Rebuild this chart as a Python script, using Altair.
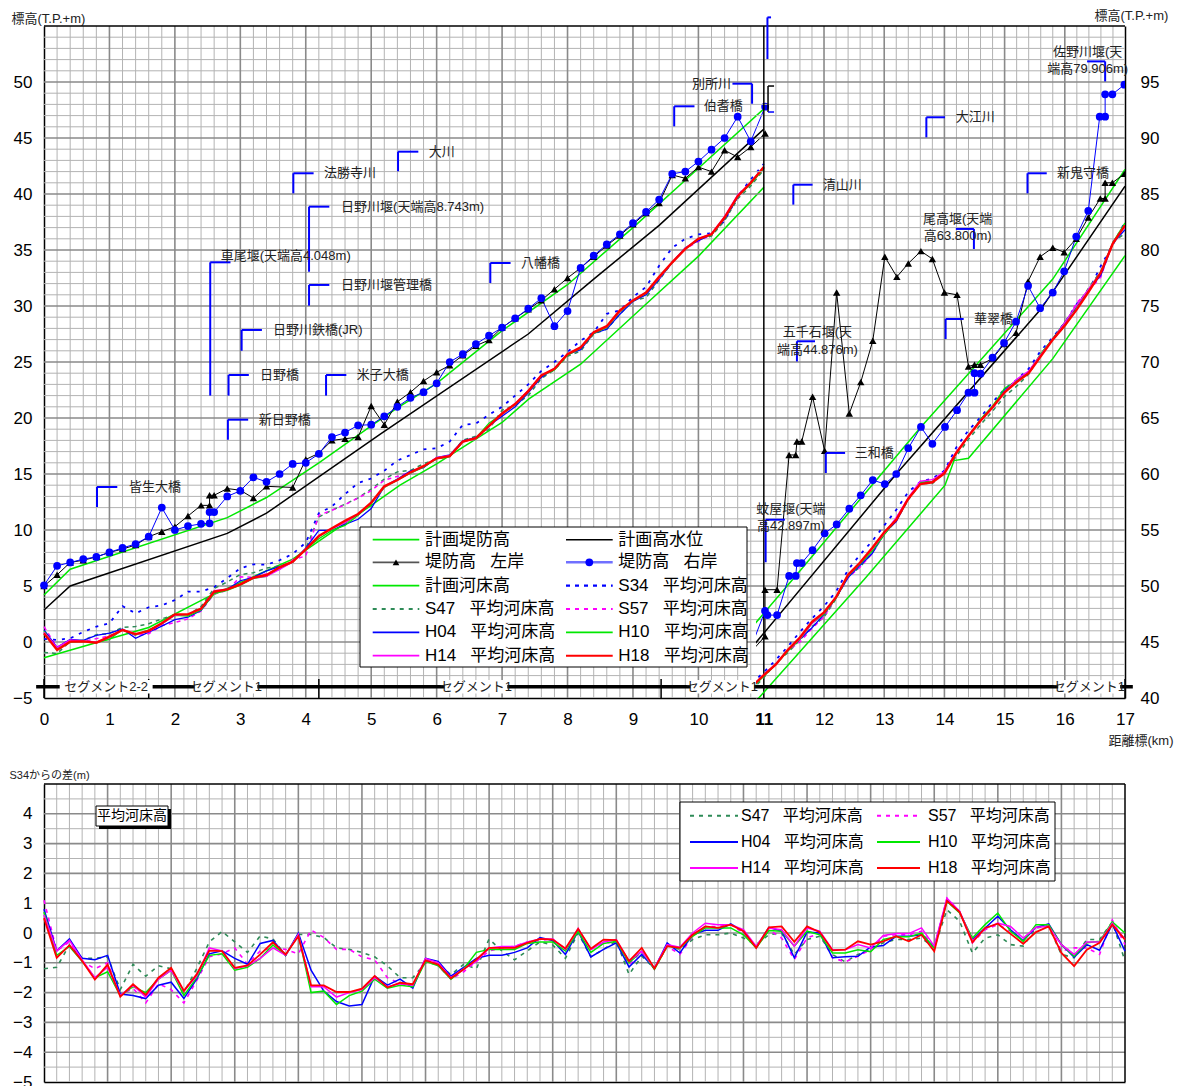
import altair as alt
import pandas as pd

FONT = "Liberation Sans, Noto Sans CJK JP"

# ----------------------------------------------------------------- data
# stations (km)
ST_L = [0.0, 0.2, 0.4, 0.6, 0.8, 1.0, 1.2, 1.4, 1.6, 1.8, 2.0, 2.2, 2.4, 2.6, 2.8, 3.0, 3.2, 3.4, 3.6, 3.8,
        4.0, 4.2, 4.4, 4.6, 4.8, 5.0, 5.2, 5.4, 5.6, 5.8, 6.0, 6.2, 6.4, 6.6, 6.8, 7.0, 7.2, 7.4, 7.6, 7.8,
        8.0, 8.2, 8.4, 8.6, 8.8, 9.0, 9.2, 9.4, 9.6, 9.8, 10.0, 10.2, 10.4, 10.6, 10.8, 11.0]
ST_R = [10.8, 11.0, 11.2, 11.4, 11.6, 11.8, 12.0, 12.2, 12.4, 12.6, 12.8, 13.0, 13.2, 13.4, 13.6, 13.8,
        14.0, 14.2, 14.4, 14.6, 14.8, 15.0, 15.2, 15.4, 15.6, 15.8, 16.0, 16.2, 16.4, 16.6, 16.8, 17.0]
ST_B = ST_L + ST_R[2:]

# levee heights, left bank (triangles)
LB_L_KM = [0.0, 0.2, 0.4, 0.6, 0.8, 1.0, 1.2, 1.4, 1.6, 1.8, 2.0, 2.2, 2.4, 2.53, 2.53, 2.6, 2.8, 3.0, 3.2, 3.4,
           3.8, 4.0, 4.2, 4.4, 4.6, 4.8, 5.0, 5.2, 5.4, 5.6, 5.8, 6.0, 6.2, 6.4, 6.6, 6.8, 7.0, 7.2, 7.4, 7.6,
           7.8, 8.0, 8.2, 8.4, 8.6, 8.8, 9.0, 9.2, 9.4, 9.6, 9.8, 10.0, 10.2, 10.4, 10.6, 10.8, 11.02]
LB_L = [5.0, 6.0, 7.1, 7.3, 7.6, 8.0, 8.3, 8.66, 9.4, 9.85, 10.3, 11.25, 12.2, 12.2, 13.1, 13.1, 13.7, 13.55, 12.85, 13.9,
        13.8, 16.3, 16.85, 18.0, 18.15, 18.3, 21.07, 19.4, 21.45, 22.3, 23.3, 24.08, 24.7, 25.6, 26.45, 26.96, 28.07, 28.9, 29.7, 30.5,
        31.5, 32.5, 33.4, 34.4, 35.4, 36.3, 37.3, 38.3, 39.2, 41.7, 41.4, 42.4, 42.0, 43.9, 43.3, 44.2, 45.4]
LB_R_KM = [10.8, 11.02, 11.02, 11.22, 11.42, 11.53, 11.55, 11.63, 11.81, 12.01, 12.21, 12.42, 12.61, 12.81, 13.01, 13.21,
           13.4, 13.61, 13.8, 14.0, 14.21, 14.4, 14.5, 14.6, 14.8, 14.99, 15.19, 15.39, 15.59, 15.8, 15.99, 16.19, 16.39,
           16.59, 16.67, 16.67, 16.79, 16.99]
LB_R = [44.2, 45.5, 49.67, 49.67, 61.7, 61.7, 62.9, 62.9, 66.9, 62.07, 76.2, 65.4, 68.2, 71.9, 79.4, 77.6,
        78.8, 79.9, 79.2, 76.2, 76.0, 69.6, 69.76, 69.76, 70.3, 71.6, 72.6, 77.2, 79.4, 80.2, 79.8, 81.0, 82.9,
        84.6, 84.6, 86.0, 86.0, 86.8]
# levee heights, right bank (circles)
RB_L_KM = [0.0, 0.2, 0.4, 0.6, 0.8, 1.0, 1.2, 1.4, 1.6, 1.8, 2.0, 2.2, 2.4, 2.53, 2.53, 2.6, 2.8, 3.0, 3.2, 3.4,
           3.6, 3.8, 4.0, 4.2, 4.4, 4.6, 4.8, 5.0, 5.2, 5.4, 5.6, 5.8, 6.0, 6.2, 6.4, 6.6, 6.8, 7.0, 7.2, 7.4,
           7.6, 7.8, 8.0, 8.2, 8.4, 8.6, 8.8, 9.0, 9.2, 9.4, 9.6, 9.8, 10.0, 10.2, 10.4, 10.6, 10.8, 11.02]
RB_L = [5.06, 6.8, 7.1, 7.4, 7.6, 8.0, 8.4, 8.75, 9.4, 12.0, 10.0, 10.35, 10.55, 10.6, 11.6, 11.6, 13.0, 13.5, 14.7, 14.3,
        15.0, 15.9, 16.0, 16.8, 18.3, 18.7, 19.35, 19.4, 20.15, 21.0, 21.8, 22.3, 23.1, 25.0, 25.7, 26.6, 27.35, 28.07, 28.9, 29.76,
        30.7, 28.2, 29.55, 33.4, 34.5, 35.5, 36.4, 37.4, 38.4, 39.5, 41.8, 42.0, 42.9, 43.96, 45.0, 46.9, 44.7, 47.8]
RB_R_KM = [10.8, 11.02, 11.06, 11.22, 11.42, 11.53, 11.55, 11.63, 11.81, 12.01, 12.21, 12.42, 12.61, 12.81, 13.01, 13.2,
           13.4, 13.61, 13.8, 14.01, 14.21, 14.4, 14.5, 14.5, 14.6, 14.8, 14.99, 15.19, 15.39, 15.59, 15.8, 15.99,
           16.19, 16.39, 16.58, 16.67, 16.67, 16.79, 16.99]
RB_R = [44.7, 47.77, 47.4, 47.4, 50.9, 50.9, 52.05, 52.05, 53.2, 54.7, 55.5, 56.9, 58.1, 59.46, 59.1, 60.0,
        62.3, 64.2, 62.7, 64.2, 65.7, 67.26, 67.26, 69.0, 68.96, 70.4, 71.7, 73.6, 76.8, 74.8, 76.2, 78.1,
        81.2, 83.5, 91.9, 91.9, 93.9, 93.9, 94.76]

# planned levee height / planned high water level / planned bed
PLEV_L_KM = [0.0, 0.4, 2.8, 3.4, 4.2, 5.0, 5.4, 6.0, 7.0, 8.0, 9.0, 10.0, 11.0]
PLEV_L = [4.2, 6.5, 11.1, 12.9, 16.0, 19.3, 20.9, 23.1, 27.8, 31.9, 37.0, 42.3, 47.6]
PLEV_R_KM = [10.8, 11.56, 13.61, 15.8, 17.0]
PLEV_R = [46.3, 51.1, 64.2, 77.4, 87.2]
HWL_L_KM = [0.0, 0.4, 2.8, 3.4, 5.15, 7.4, 8.4, 9.4, 11.0]
HWL_L = [2.86, 5.0, 9.7, 11.5, 18.6, 27.5, 32.4, 37.2, 45.8]
HWL_R_KM = [10.8, 13.2, 15.6, 17.0]
HWL_R = [44.5, 60.0, 74.7, 85.7]
PBED_L_KM = [0.0, 1.6, 2.5, 3.8, 4.2, 5.0, 5.44, 6.0, 7.0, 7.41, 8.2, 9.28, 10.01, 11.0]
PBED_L = [-1.4, 1.3, 4.0, 7.4, 9.0, 12.2, 14.0, 15.9, 19.6, 21.7, 24.8, 30.6, 34.5, 40.6]
PBED_R_KM = [10.8, 12.67, 14.01, 14.16, 14.4, 15.8, 17.0]
PBED_R = [39.3, 50.6, 59.0, 61.2, 61.4, 70.3, 79.5]

# mean bed height S34 and H18
S34_L = [0.27, 0.18, 0.33, 0.9, 1.37, 1.67, 3.2, 2.56, 3.1, 3.27, 3.75, 4.5, 4.5, 4.9, 5.7, 6.58, 6.93, 6.9, 7.3, 7.86,
         8.87, 11.5, 12.1, 13.2, 14.2, 14.6, 15.3, 16.2, 16.7, 17.2, 17.3, 17.9, 19.4, 19.5, 20.3, 21.0, 22.0, 23.0, 24.2, 25.0,
         25.9, 26.9, 27.65, 29.3, 29.6, 30.8, 31.7, 33.6, 35.2, 36.0, 36.4, 36.5, 37.6, 39.8, 41.3, 42.7]
S34_R = [41.3, 42.3, 43.4, 44.6, 45.9, 47.1, 48.2, 49.5, 51.45, 52.8, 54.0, 55.4, 56.8, 58.4, 59.3, 59.6,
         60.3, 62.4, 63.9, 65.06, 66.4, 67.6, 68.4, 69.4, 71.0, 72.2, 73.5, 75.2, 76.4, 78.6, 80.5, 82.5]
H18_L = [0.77, -0.71, 0.03, 0.06, -0.06, 0.48, 1.07, 0.71, 1.0, 1.67, 2.47, 2.47, 2.98, 4.49, 4.7, 5.15, 5.74, 5.98, 6.67, 7.17,
         8.27, 9.46, 10.15, 10.83, 11.43, 12.44, 13.9, 14.46, 15.15, 15.7, 16.4, 16.6, 17.9, 18.2, 19.3, 20.4, 21.25, 22.4, 23.8, 24.4,
         25.7, 26.3, 27.65, 28.2, 29.6, 30.5, 31.2, 32.6, 33.9, 35.1, 36.0, 36.4, 37.9, 39.8, 41.0, 42.4]
H18_R = [41.0, 42.05, 43.0, 44.3, 45.4, 46.8, 47.65, 49.0, 51.0, 52.1, 53.4, 54.8, 55.9, 57.8, 59.1, 59.26,
         60.06, 61.9, 63.4, 64.76, 65.96, 67.3, 68.2, 69.0, 70.5, 72.0, 73.25, 74.7, 76.3, 78.0, 80.6, 82.2]

# difference from S34 (lower chart), one value per station 0.0 .. 17.0
D_H18 = [0.5, -0.83, -0.41, -0.94, -1.56, -1.06, -2.14, -1.72, -2.08, -1.5, -1.17, -1.94, -1.39, -0.59, -0.61,
         -1.17, -1.09, -0.72, -0.31, -0.72, -0.11, -1.76, -1.76, -1.98, -1.98, -1.87, -1.44, -1.83, -1.67, -1.72,
         -0.92, -1.06, -1.52, -1.22, -0.89, -0.5, -0.5, -0.5, -0.33, -0.2, -0.22, -0.52, 0.14, -0.53, -0.22,
         -0.24, -0.94, -0.5, -1.19, -0.44, -0.5, -0.06, 0.22, 0.17, 0.28, 0.06, -0.5, 0.19, 0.22, -0.3,
         0.22, 0.03, -0.58, -0.56, -0.28, -0.39, -0.28, -0.11, -0.28, -0.06, -0.61, 1.08, 0.7, -0.31, 0.17,
         0.31, -0.03, -0.36, 0.03, 0.22, -0.67, -1.11, -0.56, -0.33, 0.28, -0.22]
D_H04 = [0.8, -0.6, -0.2, -0.85, -0.9, -0.75, -2.05, -2.1, -2.2, -1.75, -1.65, -2.2, -1.55, -0.7, -0.6,
         -0.85, -1.05, -0.35, -0.25, -0.75, 0.0, -1.25, -1.95, -2.3, -2.45, -2.4, -1.45, -1.75, -1.55, -1.85,
         -0.85, -0.95, -1.45, -1.15, -0.85, -0.75, -0.75, -0.65, -0.5, -0.15, -0.25, -0.72, 0.05, -0.8, -0.55,
         -0.33, -1.14, -0.72, -1.19, -0.33, -0.67, -0.06, 0.09, 0.09, 0.31, 0.06, -0.48, 0.19, 0.06, -0.83,
         0.03, 0.0, -0.83, -0.8, -0.78, -0.47, -0.42, -0.11, -0.11, -0.06, -0.48, 1.11, 0.7, -0.22, 0.17,
         0.56, 0.11, -0.26, 0.19, 0.31, -0.39, -0.81, -0.39, -0.58, 0.3, -0.61]
D_H10 = [0.7, -0.75, -0.45, -0.95, -1.5, -1.3, -2.1, -1.8, -2.0, -1.55, -1.25, -2.1, -1.5, -0.75, -0.7,
         -1.25, -1.15, -0.85, -0.4, -0.75, -0.05, -2.0, -1.95, -2.4, -2.1, -1.95, -1.55, -1.85, -1.75, -1.8,
         -0.95, -1.1, -1.55, -1.2, -0.65, -0.55, -0.55, -0.55, -0.35, -0.3, -0.3, -0.6, 0.05, -0.65, -0.35,
         -0.28, -1.0, -0.61, -1.22, -0.44, -0.5, -0.11, 0.17, 0.17, 0.17, -0.06, -0.5, 0.08, 0.06, -0.44,
         0.06, -0.06, -0.67, -0.67, -0.56, -0.63, -0.22, -0.13, -0.13, 0.0, -0.5, 1.06, 0.67, -0.17, 0.28,
         0.67, 0.06, -0.28, 0.28, 0.28, -0.39, -0.78, -0.33, -0.28, 0.37, 0.0]
D_H14 = [0.6, -0.6, -0.25, -0.9, -1.5, -1.15, -2.1, -1.75, -2.15, -1.55, -1.25, -1.95, -1.45, -0.5, -0.6,
         -1.2, -1.1, -0.85, -0.5, -0.75, -0.05, -1.8, -1.8, -2.15, -2.0, -1.9, -1.5, -1.8, -1.7, -1.75,
         -0.85, -1.0, -1.5, -1.2, -0.95, -0.5, -0.45, -0.45, -0.3, -0.2, -0.2, -0.55, 0.15, -0.55, -0.3,
         -0.22, -0.94, -0.61, -1.17, -0.39, -0.48, 0.0, 0.33, 0.28, 0.28, 0.11, -0.44, 0.17, 0.11, -0.44,
         0.17, 0.06, -0.56, -0.56, -0.39, -0.5, -0.08, -0.02, -0.02, 0.17, -0.44, 1.17, 0.72, -0.26, 0.14,
         0.33, 0.22, -0.17, 0.19, 0.22, -0.39, -0.72, -0.3, -0.3, 0.33, -0.22]
D_S47 = [-1.2, -1.15, -0.4, -0.85, -0.85, -0.8, -1.9, -1.05, -1.45, -1.1, -1.2, -2.0, -1.2, -0.3, 0.05,
         -0.3, -0.65, -0.1, -0.2, -0.75, -0.05, -0.05, -0.15, -0.5, -0.55, -0.65, -0.8, -1.1, -1.5, -1.5,
         -1.0, -1.05, -1.4, -1.05, -1.2, -0.2, -0.6, -0.9, -0.6, -0.3, -0.4, -0.85, 0.0, -0.8, -0.55,
         -0.26, -1.39, -0.78, -1.19, -0.39, -0.56, -0.22, -0.06, -0.06, 0.0, -0.17, -0.39, -0.06, 0.0, -0.72,
         -0.22, -0.11, -0.72, -0.97, -0.72, -0.56, -0.33, -0.22, -0.22, -0.17, -0.5, 0.78, 0.39, -0.67, -0.17,
         -0.06, -0.39, -0.44, 0.17, 0.22, -0.72, -0.83, -0.22, -0.22, 0.37, -0.94]
D_S57 = [1.1, -0.6, -0.3, -0.95, -1.2, -1.0, -2.1, -1.85, -2.35, -1.7, -1.9, -2.35, -1.6, -0.8, -0.7,
         -0.5, -1.05, -0.6, -0.5, -0.55, -0.7, 0.1, -0.15, -0.55, -0.55, -0.8, -0.9, -1.5, -1.7, -1.8,
         -0.85, -1.1, -1.55, -1.3, -0.95, -0.6, -0.5, -0.45, -0.3, -0.25, -0.2, -0.55, 0.1, -0.55, -0.35,
         -0.28, -1.06, -0.61, -1.22, -0.44, -0.72, -0.11, 0.22, 0.22, 0.28, 0.0, -0.5, 0.11, -0.17, -0.89,
         -0.17, 0.0, -0.83, -0.97, -0.78, -0.56, -0.11, -0.06, -0.06, 0.06, -0.5, 1.17, 0.72, -0.33, 0.11,
         0.28, 0.06, -0.22, 0.17, 0.28, -0.61, -0.5, -0.5, -0.72, 0.44, -0.39]

for _arr in (D_H18, D_H04, D_H10, D_H14, D_S47, D_S57):
    assert len(_arr) == len(ST_B), len(_arr)
assert len(LB_L_KM) == len(LB_L) and len(RB_L_KM) == len(RB_L)
assert len(LB_R_KM) == len(LB_R) and len(RB_R_KM) == len(RB_R)
assert len(S34_L) == len(ST_L) == len(H18_L) and len(S34_R) == len(ST_R) == len(H18_R)

# annotations, left panel
ANL_LABEL = ["皆生大橋", "新日野橋", "日野橋", "米子大橋", "日野川鉄橋(JR)", "車尾堰(天端高4.048m)", "日野川堰管理橋",
             "日野川堰(天端高8.743m)", "法勝寺川", "大川", "八幡橋", "伯耆橋", "別所川"]
ANL_VX = [0.81, 2.81, 2.82, 4.31, 3.02, 2.54, 4.05, 4.05, 3.81, 5.41, 6.82, 9.63, 10.82]
ANL_VTOP = [13.84, 19.85, 23.84, 23.84, 27.86, 33.9, 31.88, 38.87, 41.85, 43.78, 33.84, 47.83, 49.85]
ANL_VBOT = [12.05, 18.06, 22.0, 22.0, 26.0, 22.0, 30.03, 33.06, 40.06, 42.03, 32.05, 46.04, 48.06]
ANL_HX1 = [0.81, 2.81, 2.82, 4.31, 3.02, 2.54, 4.05, 4.05, 3.81, 5.41, 6.82, 9.63, 10.52]
ANL_HX2 = [1.12, 3.12, 3.13, 4.62, 3.33, 2.85, 4.36, 4.36, 4.12, 5.72, 7.13, 9.94, 10.82]
ANL_TX = [1.30, 3.28, 3.30, 4.78, 3.50, 2.70, 4.54, 4.54, 4.28, 5.88, 7.29, 10.08, 10.50]
ANL_TY = [13.84, 19.85, 23.84, 23.84, 27.86, 34.5, 31.88, 38.87, 41.85, 43.78, 33.84, 47.83, 49.85]
ANL_ALIGN = ["left"] * 12 + ["right"]

# annotations, right panel (brackets)
ANR_VX = [11.49, 13.70, 15.38, 12.03, 14.02, 11.55, 11.03, 14.49, 16.67, 11.06]
ANR_VTOP = [85.83, 91.85, 86.85, 61.88, 73.84, 71.85, 55.92, 81.88, 96.84, 100.77]
ANR_VBOT = [84.05, 90.06, 85.06, 60.09, 72.05, 70.05, 52.12, 80.09, 95.05, 97.05]
ANR_HX1 = [11.49, 13.70, 15.38, 12.03, 14.02, 11.55, 11.03, 14.19, 16.37, 11.06]
ANR_HX2 = [11.81, 14.01, 15.70, 12.35, 14.32, 11.85, 11.35, 14.49, 16.67, 11.12]
# annotations, right panel (texts)
ANR_TEXT = ["清山川", "大江川", "新鬼守橋", "三和橋", "華翠橋", "五千石堰(天", "端高44.876m)", "蚊屋堰(天端",
            "高42.897m)", "尾高堰(天端", "高63.800m)", "佐野川堰(天", "端高79.906m)"]
ANR_TX = [11.98, 14.19, 15.87, 12.51, 14.49, 11.89, 11.89, 11.45, 11.45, 14.22, 14.22, 16.38, 16.38]
ANR_TY = [85.83, 91.85, 86.85, 61.88, 73.84, 72.65, 71.1, 56.88, 55.38, 82.77, 81.25, 97.68, 96.16]
ANR_ALIGN = ["left"] * 5 + ["center"] * 8

# segment bar
SEG_L_TEXT = ["セグメント2-2", "セグメント1", "セグメント1", "セグメント1"]
SEG_L_C = [0.95, 2.78, 6.6, 10.36]
SEG_L_X1 = [0.24, 2.30, 6.12, 9.88]
SEG_L_X2 = [1.66, 3.26, 7.08, 10.85]
SEG_L_TICK = [0.0, 1.6, 4.2, 9.43]
SEG_R_TEXT = ["セグメント1"]
SEG_R_C = [16.4]
SEG_R_X1 = [15.89]
SEG_R_X2 = [16.92]
SEG_R_TICK = [17.0]

# legend labels
SP = "\u00a0\u00a0\u00a0"
LEG_TOP = ["計画堤防高", "計画高水位", "堤防高" + SP + "左岸", "堤防高" + SP + "右岸", "計画河床高",
           "S34" + SP + "平均河床高", "S47" + SP + "平均河床高", "S57" + SP + "平均河床高",
           "H04" + SP + "平均河床高", "H10" + SP + "平均河床高", "H14" + SP + "平均河床高", "H18" + SP + "平均河床高"]
LEG_BOT = ["S47" + SP + "平均河床高", "S57" + SP + "平均河床高", "H04" + SP + "平均河床高",
           "H10" + SP + "平均河床高", "H14" + SP + "平均河床高", "H18" + SP + "平均河床高"]

# ----------------------------------------------------------------- styles / helpers
LW, RW, TH = 712, 369, 672
BW, BH = 1081, 298
GREEN = "#00e800"
GRID_MIN = "#b3b3b3"
GRID_MAJ = "#8a8a8a"
AX_COMMON = dict(labelFont=FONT, labelFontSize=17, labelColor="black", domainColor="black",
                 domainWidth=1.5, ticks=False, grid=False, labelFlush=False, labelOverlap=False)
TITLE_STYLE = dict(titleFont=FONT, titleFontSize=13, titleFontWeight="normal", titleColor="#222222")
TITLE_STYLE_S = dict(titleFont=FONT, titleFontSize=11, titleFontWeight="normal", titleColor="#222222")

SC = {
    "XL": (alt.Scale(domain=[0, 10.88], nice=False, zero=False),
           alt.Axis(values=list(range(0, 11)), format="d", labelPadding=13, title=None, **AX_COMMON)),
    "YL": (alt.Scale(domain=[-5, 55], nice=False, zero=False),
           alt.Axis(values=list(range(-5, 55, 5)), labelPadding=12, title="標高(T.P.+m)", titleAngle=0,
                    titleAlign="left", titleBaseline="bottom", titleX=-33, titleY=-1, **TITLE_STYLE, **AX_COMMON)),
    "XR": (alt.Scale(domain=[10.87, 17], nice=False, zero=False),
           alt.Axis(values=list(range(11, 18)), format="d", labelPadding=13,
                    labelFontWeight={"condition": {"test": "datum.value == 11", "value": "bold"}, "value": "normal"},
                    title="距離標(km)", titleAlign="left", titleBaseline="middle", titleX=352, titleY=42,
                    **TITLE_STYLE, **AX_COMMON)),
    "YR": (alt.Scale(domain=[40, 100], nice=False, zero=False),
           alt.Axis(values=list(range(40, 100, 5)), orient="right", labelPadding=15, title="標高(T.P.+m)",
                    titleAngle=0, titleAlign="left", titleBaseline="bottom", titleX=-31, titleY=-4,
                    **TITLE_STYLE, **AX_COMMON)),
    "XB": (alt.Scale(domain=[0, 17], nice=False, zero=False),
           alt.Axis(labels=False, title=None, **AX_COMMON)),
    "YB": (alt.Scale(domain=[-5, 5], nice=False, zero=False),
           alt.Axis(values=list(range(-5, 5)), labelPadding=12, title="S34からの差(m)", titleAngle=0,
                    titleAlign="left", titleBaseline="bottom", titleX=-35, titleY=-4, **TITLE_STYLE_S, **AX_COMMON)),
}
ONE = pd.DataFrame({"k": [0]})


def X(field, key):
    s, a = SC[key]
    return alt.X(field, scale=s, axis=a)


def Y(field, key):
    s, a = SC[key]
    return alt.Y(field, scale=s, axis=a)


def series(km, v, xk, yk, color, width=1.5, dash=None, clip=False):
    df = pd.DataFrame({"km": km, "v": v, "o": list(range(len(km)))})
    kw = dict(color=color, strokeWidth=width, clip=clip)
    if dash:
        kw["strokeDash"] = dash
    return alt.Chart(df).mark_line(**kw).encode(x=X("km:Q", xk), y=Y("v:Q", yk), order="o:Q")


def markers(km, v, xk, yk, shape, color, size=60, clip=False):
    df = pd.DataFrame({"km": km, "v": v})
    return alt.Chart(df).mark_point(shape=shape, filled=True, color=color, size=size,
                                    opacity=1, clip=clip).encode(x=X("km:Q", xk), y=Y("v:Q", yk))


def vrules(vals, xk, color, width):
    return alt.Chart(pd.DataFrame({"km": vals})).mark_rule(color=color, strokeWidth=width).encode(
        x=X("km:Q", xk))


def hrules(vals, yk, color, width):
    return alt.Chart(pd.DataFrame({"v": vals})).mark_rule(color=color, strokeWidth=width).encode(
        y=Y("v:Q", yk))


def seg_v(xv, y1, y2, xk, yk, color, width=2.0):
    df = pd.DataFrame({"km": xv, "v": y1, "v2": y2})
    return alt.Chart(df).mark_rule(color=color, strokeWidth=width).encode(
        x=X("km:Q", xk), y=Y("v:Q", yk), y2="v2:Q")


def seg_h(x1, x2, yv, xk, yk, color, width=2.0):
    df = pd.DataFrame({"km": x1, "km2": x2, "v": yv})
    return alt.Chart(df).mark_rule(color=color, strokeWidth=width).encode(
        x=X("km:Q", xk), x2="km2:Q", y=Y("v:Q", yk))


def box(x1, x2, y1, y2, xk, yk):
    df = pd.DataFrame({"km": x1, "km2": x2, "v": y1, "v2": y2})
    return alt.Chart(df).mark_rect(fill="white").encode(
        x=X("km:Q", xk), x2="km2:Q", y=Y("v:Q", yk), y2="v2:Q")


def texts(tx, ty, labels, xk, yk, align="left", size=13, color="#222222"):
    df = pd.DataFrame({"km": tx, "v": ty, "t": labels})
    return alt.Chart(df).mark_text(align=align, baseline="middle", font=FONT, fontSize=size,
                                   color=color).encode(x=X("km:Q", xk), y=Y("v:Q", yk), text="t:N")


def prect(x1, y1, x2, y2, **kw):
    return alt.Chart(ONE).mark_rect(**kw).encode(
        x=alt.value(x1), x2=alt.value(x2), y=alt.value(y1), y2=alt.value(y2))


def pline(x1, x2, y, color, width=1.5, dash=None):
    kw = dict(color=color, strokeWidth=width)
    if dash:
        kw["strokeDash"] = dash
    return alt.Chart(ONE).mark_rule(**kw).encode(x=alt.value(x1), x2=alt.value(x2), y=alt.value(y))


def ppoint(x, y, shape, color, size=55):
    return alt.Chart(ONE).mark_point(shape=shape, filled=True, color=color, size=size, opacity=1).encode(
        x=alt.value(x), y=alt.value(y))


def ptext(x, y, s, size=17, align="left"):
    return alt.Chart(ONE).mark_text(align=align, baseline="middle", font=FONT, fontSize=size,
                                    color="black").encode(x=alt.value(x), y=alt.value(y), text=alt.value(s))


def frac_grid(start, n, step, major_every):
    return [round(start + step * i, 2) for i in range(1, n) if i % major_every != 0]


def derived(h18, dx, offset):
    return [round(h18[j] + dx[offset + j] - D_H18[offset + j], 2) for j in range(len(h18))]


BED = [  # (diff list, colour, width, dash)
    (D_S47, "#2e8b57", 1.5, [4, 4]),
    (D_S57, "#ff00ff", 1.5, [4, 4]),
    (D_H04, "#0000ff", 1.3, None),
    (D_H10, GREEN, 1.3, None),
    (D_H14, "#ff00ff", 1.3, None),
]

# ----------------------------------------------------------------- left panel (0 - 11 km)
L = [vrules(frac_grid(0, 55, 0.2, 5), "XL", GRID_MIN, 1),
     hrules([v for v in range(-4, 55) if v % 5 != 0], "YL", GRID_MIN, 1),
     vrules(list(range(1, 11)), "XL", GRID_MAJ, 1.6),
     hrules(list(range(0, 55, 5)), "YL", GRID_MAJ, 1.6),
     alt.Chart(ONE).mark_rule(color="black", strokeWidth=1.5).encode(x=alt.value(0), x2=alt.value(LW), y=alt.value(0)),
     series(PBED_L_KM, PBED_L, "XL", "YL", GREEN, 1.5),
     series(PLEV_L_KM, PLEV_L, "XL", "YL", GREEN, 1.5),
     series(HWL_L_KM, HWL_L, "XL", "YL", "black", 1.5),
     series(ST_L, S34_L, "XL", "YL", "#0000ff", 1.8, [3, 6])]
for d, c, w, dash in BED:
    L.append(series(ST_L, derived(H18_L, d, 0), "XL", "YL", c, w, dash))
L += [series(ST_L, H18_L, "XL", "YL", "#ff0000", 2.4),
      series(LB_L_KM, LB_L, "XL", "YL", "black", 1),
      series(RB_L_KM, RB_L, "XL", "YL", "#0000ff", 1),
      markers(LB_L_KM, LB_L, "XL", "YL", "triangle-up", "black", 55),
      markers(RB_L_KM, RB_L, "XL", "YL", "circle", "#0000ff", 60)]
# segment bar
L += [seg_h([-0.12], [10.88], [-4.0], "XL", "YL", "black", 3.5),
      seg_v(SEG_L_TICK, [-5.0] * 4, [-3.3] * 4, "XL", "YL", "black", 1.5),
      box(SEG_L_X1, SEG_L_X2, [-4.6] * 4, [-3.4] * 4, "XL", "YL"),
      texts(SEG_L_C, [-4.0] * 4, SEG_L_TEXT, "XL", "YL", "center", 13)]
# annotations
L += [seg_v(ANL_VX, ANL_VTOP, ANL_VBOT, "XL", "YL", "#0000ff", 2),
      seg_h(ANL_HX1, ANL_HX2, ANL_VTOP, "XL", "YL", "#0000ff", 2)]
for al in ("left", "right"):
    idx = [i for i, a in enumerate(ANL_ALIGN) if a == al]
    L.append(texts([ANL_TX[i] for i in idx], [ANL_TY[i] for i in idx], [ANL_LABEL[i] for i in idx],
                   "XL", "YL", al, 13))
# legend (pixel layout inside the left plot)
L.append(prect(316, 501, 703, 641, fill="white", stroke="black", strokeWidth=1))
ROWS = [513.7, 536.3, 559.7, 583.0, 606.3, 629.7]
LEG_STYLE = [(GREEN, 1.8, None), ("black", 1.5, None), ("#555555", 1.8, None), ("#7070ff", 2.5, None),
             (GREEN, 1.8, None), ("#0000ff", 2.2, [4, 5]), ("#2e8b57", 2.2, [4, 5]), ("#ff00ff", 2.2, [4, 5]),
             ("#0000ff", 1.8, None), (GREEN, 1.8, None), ("#ff00ff", 1.8, None), ("#ff0000", 2.0, None)]
for k, (lab, (col, w, dash)) in enumerate(zip(LEG_TOP, LEG_STYLE)):
    r, c = divmod(k, 2)
    x1, x2, tx = (328.7, 375.3, 381) if c == 0 else (522, 568.7, 574.3)
    L.append(pline(x1, x2, ROWS[r], col, w, dash))
    L.append(ptext(tx, ROWS[r], lab, 17))
L.append(ppoint(352, ROWS[1], "triangle-up", "black", 45))
L.append(ppoint(545.3, ROWS[1], "circle", "#0000ff", 60))

left = alt.layer(*L).properties(width=LW, height=TH)

# ----------------------------------------------------------------- right panel (11 - 17 km)
R = [vrules(frac_grid(11, 30, 0.2, 5), "XR", GRID_MIN, 1),
     hrules([v for v in range(41, 100) if v % 5 != 0], "YR", GRID_MIN, 1),
     vrules([12, 13, 14, 15, 16], "XR", GRID_MAJ, 1.6),
     hrules(list(range(45, 100, 5)), "YR", GRID_MAJ, 1.6),
     vrules([11], "XR", "black", 1.5),
     alt.Chart(ONE).mark_rule(color="black", strokeWidth=1.5).encode(x=alt.value(0), x2=alt.value(RW), y=alt.value(0)),
     series(PBED_R_KM, PBED_R, "XR", "YR", GREEN, 1.5, clip=True),
     series(PLEV_R_KM, PLEV_R, "XR", "YR", GREEN, 1.5, clip=True),
     series(HWL_R_KM, HWL_R, "XR", "YR", "black", 1.5, clip=True),
     series(ST_R, S34_R, "XR", "YR", "#0000ff", 1.8, [3, 6], clip=True)]
for d, c, w, dash in BED:
    R.append(series(ST_R, derived(H18_R, d, 54), "XR", "YR", c, w, dash, clip=True))
R += [series(ST_R, H18_R, "XR", "YR", "#ff0000", 2.4, clip=True),
      series(LB_R_KM, LB_R, "XR", "YR", "black", 1, clip=True),
      series(RB_R_KM, RB_R, "XR", "YR", "#0000ff", 1, clip=True),
      markers(LB_R_KM, LB_R, "XR", "YR", "triangle-up", "black", 55, clip=True),
      markers(RB_R_KM, RB_R, "XR", "YR", "circle", "#0000ff", 60, clip=True)]
R += [seg_h([10.87], [17.13], [41.0], "XR", "YR", "black", 3.5),
      seg_v(SEG_R_TICK, [40.0], [41.7], "XR", "YR", "black", 1.5),
      box(SEG_R_X1, SEG_R_X2, [40.4], [41.6], "XR", "YR"),
      texts(SEG_R_C, [41.0], SEG_R_TEXT, "XR", "YR", "center", 13)]
R += [seg_v(ANR_VX, ANR_VTOP, ANR_VBOT, "XR", "YR", "#0000ff", 2),
      seg_h(ANR_HX1, ANR_HX2, ANR_VTOP, "XR", "YR", "#0000ff", 2),
      seg_v([11.07], [94.64], [92.32], "XR", "YR", "black", 1.5),
      seg_h([11.07], [11.17], [94.64], "XR", "YR", "black", 1.5),
      seg_h([11.07], [11.17], [92.32], "XR", "YR", "#0000ff", 1.5)]
for al in ("left", "center"):
    idx = [i for i, a in enumerate(ANR_ALIGN) if a == al]
    R.append(texts([ANR_TX[i] for i in idx], [ANR_TY[i] for i in idx], [ANR_TEXT[i] for i in idx],
                   "XR", "YR", al, 13))

right = alt.layer(*R).properties(width=RW, height=TH)

# ----------------------------------------------------------------- lower panel (difference from S34)
B = [vrules(frac_grid(0, 85, 0.2, 5), "XB", GRID_MIN, 1),
     hrules([-4.5, -3.5, -2.5, -1.5, -0.5, 0.5, 1.5, 2.5, 3.5, 4.5], "YB", GRID_MIN, 1),
     vrules(list(range(1, 17)), "XB", GRID_MAJ, 1.6),
     hrules(list(range(-4, 5)), "YB", GRID_MAJ, 1.6),
     alt.Chart(ONE).mark_rule(color="black", strokeWidth=1.5).encode(x=alt.value(0), x2=alt.value(BW), y=alt.value(0)),
     alt.Chart(ONE).mark_rule(color="black", strokeWidth=1.5).encode(x=alt.value(BW), y=alt.value(0), y2=alt.value(BH))]
B_STYLE = [(D_S47, "#2e8b57", 1.6, [4, 5]), (D_S57, "#ff00ff", 1.6, [4, 5]), (D_H04, "#0000ff", 1.5, None),
           (D_H10, GREEN, 1.5, None), (D_H14, "#ff00ff", 1.5, None), (D_H18, "#ff0000", 1.8, None)]
for d, c, w, dash in B_STYLE:
    B.append(series(ST_B, d, "XB", "YB", c, w, dash))
# small caption box
B += [prect(55, 25, 127, 45, fill="black"),
      prect(52, 22, 124, 42, fill="white", stroke="black", strokeWidth=1),
      ptext(88, 32, "平均河床高", 14, "center")]
# legend
B.append(prect(636, 18, 1011, 97, fill="white", stroke="black", strokeWidth=1))
BROWS = [31.7, 58.0, 84.0]
for k, (lab, (_, col, w, dash)) in enumerate(zip(LEG_BOT, B_STYLE)):
    r, c = divmod(k, 2)
    x1, x2, tx = (646, 694, 697) if c == 0 else (833, 876, 884)
    B.append(pline(x1, x2, BROWS[r], col, 2.0, dash))
    B.append(ptext(tx, BROWS[r], lab, 16))

bottom = alt.layer(*B).properties(width=BW, height=BH)

top = alt.hconcat(left, right, spacing=0, bounds="flush")
chart = alt.vconcat(top, bottom, spacing=20).properties(
    padding={"left": 0, "top": 0, "right": 0, "bottom": 0}
).configure_view(stroke="transparent")

chart.save("out.html", embed_options={"renderer": "svg", "actions": False})
